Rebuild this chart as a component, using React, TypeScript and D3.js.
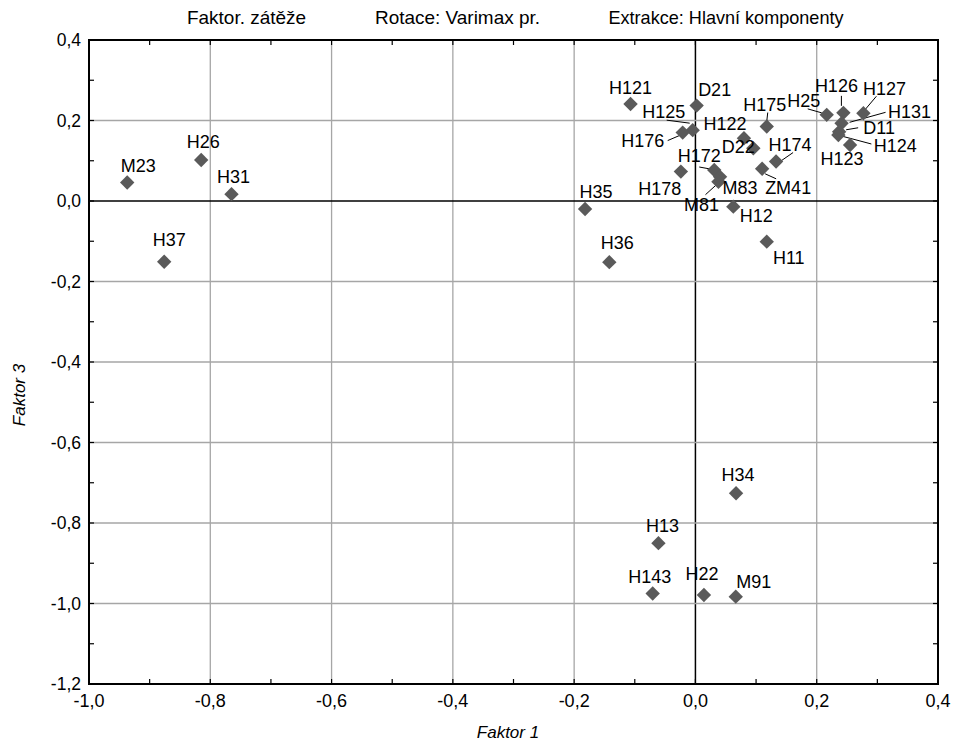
import React from "react";
import * as d3 from "d3";

const names = ["M23","H26","H31","H37","H35","H36","H121","D21","H125","H176","H122","D22","H175","H174","ZM41","H172","M83","M81","H178","H12","H11","H25","H126","H127","H131","D11","H124","H123","H34","H13","H143","H22","M91"];
const factor1 = [-0.937,-0.815,-0.765,-0.876,-0.182,-0.142,-0.107,0.002,-0.0045,-0.021,0.080,0.0955,0.1176,0.133,0.110,0.031,0.0406,0.038,-0.024,0.0625,0.1176,0.2165,0.244,0.277,0.241,0.237,0.2357,0.255,0.067,-0.061,-0.0705,0.014,0.0665];
const factor3 = [0.046,0.102,0.017,-0.151,-0.020,-0.152,0.241,0.237,0.176,0.170,0.156,0.131,0.185,0.098,0.080,0.077,0.060,0.048,0.073,-0.014,-0.101,0.214,0.219,0.218,0.193,0.172,0.164,0.139,-0.726,-0.850,-0.975,-0.979,-0.983];

const xTicks = [-1.0,-0.8,-0.6,-0.4,-0.2,0.0,0.2,0.4];
const yTicks = [0.4,0.2,0.0,-0.2,-0.4,-0.6,-0.8,-1.0,-1.2];
const headerTexts = ["Faktor. zátěže","Rotace: Varimax pr.","Extrakce: Hlavní komponenty"];
const xTitle = "Faktor 1";
const yTitle = "Faktor 3";

// label layout (px offsets of label centre from marker), plus optional leader line
const labelLayout: Record<string, { dx: number; dy: number; leader?: number[] }> = {
  M23: { dx: 11, dy: -17 }, H26: { dx: 2, dy: -18 }, H31: { dx: 2, dy: -17 }, H37: { dx: 5, dy: -22 },
  H35: { dx: 11, dy: -17 }, H36: { dx: 8, dy: -19 }, H121: { dx: 0, dy: -16 }, D21: { dx: 18, dy: -16 },
  H125: { dx: -29, dy: -18, leader: [-26, -10, -3, -7] },
  H176: { dx: -40, dy: 8, leader: [-15, 8, -1, 2] },
  H122: { dx: -19, dy: -15 }, D22: { dx: -15, dy: -2 },
  H175: { dx: -2, dy: -22, leader: [1, -14, 0, -5] },
  H174: { dx: 14, dy: -17, leader: [17, -9, 4, 0] },
  ZM41: { dx: 26, dy: 19, leader: [14, 10, 3, 5] },
  H172: { dx: -15, dy: -14, leader: [-15, -3, -4, -1] },
  M83: { dx: 20, dy: 11 },
  M81: { dx: -17, dy: 23, leader: [-13, 13, -2, 3] },
  H178: { dx: -21, dy: 17 }, H12: { dx: 23, dy: 9 }, H11: { dx: 22, dy: 16 },
  H25: { dx: -23, dy: -14, leader: [-19, -6, -5, -2] },
  H126: { dx: -7, dy: -27, leader: [-2, -17, -2, -7] },
  H127: { dx: 21, dy: -25, leader: [13, -17, 2, -4] },
  H131: { dx: 68, dy: -12, leader: [44, -11, 8, -1] },
  D11: { dx: 40, dy: -4, leader: [19, -4, 7, -2] },
  H124: { dx: 57, dy: 11, leader: [33, 9, 3, 1] },
  H123: { dx: -8, dy: 14 },
  H34: { dx: 2, dy: -19 }, H13: { dx: 4, dy: -17 }, H143: { dx: -3, dy: -17 }, H22: { dx: -2, dy: -21 }, M91: { dx: 18, dy: -15 },
};

const W = 956, H = 748;
const L = 89, R = 938, T = 40, B = 684;
const FONT = "'Liberation Sans', Arial, Helvetica, sans-serif";

export default function App() {
  const x = d3.scaleLinear().domain([-1.0, 0.4]).range([L, R]);
  const y = d3.scaleLinear().domain([-1.2, 0.4]).range([B, T]);
  const fmt = (v: number) => d3.format(".1f")(v).replace(".", ",").replace("−", "-");
  const minorX = d3.range(-10, 5).map((i) => i / 10);
  const minorY = d3.range(-12, 5).map((i) => i / 10);
  const grid = "#a6a6a6";
  const tk = 5;
  const headerX = [246.5, 457.5, 726];
  const headerW = [119, 165, 235];
  const diamond = d3.symbol().type(d3.symbolDiamond2).size(132);

  return (
    <svg width={W} height={H} style={{ position: "absolute", left: 0, top: 0, background: "#fff" }} fontFamily={FONT}>
      <rect x={0} y={0} width={W} height={H} fill="#fff" />
      {xTicks.map((v) => (
        <line key={"gx" + v} x1={x(v)} x2={x(v)} y1={T} y2={B} stroke={Math.abs(v) < 1e-9 ? "#000" : grid} strokeWidth={Math.abs(v) < 1e-9 ? 1.5 : 1.3} />
      ))}
      {yTicks.map((v) => (
        <line key={"gy" + v} y1={y(v)} y2={y(v)} x1={L} x2={R} stroke={Math.abs(v) < 1e-9 ? "#000" : grid} strokeWidth={Math.abs(v) < 1e-9 ? 1.5 : 1.3} />
      ))}
      {minorX.map((v) => (
        <g key={"mx" + v}>
          <line x1={x(v)} x2={x(v)} y1={T} y2={T + tk} stroke="#000" strokeWidth={1.2} />
          <line x1={x(v)} x2={x(v)} y1={B} y2={B - tk} stroke="#000" strokeWidth={1.2} />
        </g>
      ))}
      {minorY.map((v) => (
        <g key={"my" + v}>
          <line y1={y(v)} y2={y(v)} x1={L} x2={L + tk} stroke="#000" strokeWidth={1.2} />
          <line y1={y(v)} y2={y(v)} x1={R} x2={R - tk} stroke="#000" strokeWidth={1.2} />
        </g>
      ))}
      <rect x={L} y={T} width={R - L} height={B - T} fill="none" stroke="#000" strokeWidth={2} />
      {xTicks.map((v) => (
        <text key={"tx" + v} x={x(v)} y={707} textAnchor="middle" fontSize={18} fill="#000">{fmt(v)}</text>
      ))}
      {yTicks.map((v) => (
        <text key={"ty" + v} x={81} y={y(v)} dy="0.35em" textAnchor="end" fontSize={17.5} fill="#000">{fmt(v)}</text>
      ))}
      {headerTexts.map((t, i) => (
        <text key={t} x={headerX[i] - headerW[i] / 2} y={24} textLength={headerW[i]} lengthAdjust="spacingAndGlyphs" fontSize={18.5} fill="#000">{t}</text>
      ))}
      <text x={508} y={738} textAnchor="middle" fontSize={17} fontStyle="italic" fill="#000">{xTitle}</text>
      <text transform={`translate(25,${395}) rotate(-90)`} textAnchor="middle" fontSize={17} fontStyle="italic" fill="#000">{yTitle}</text>
      {names.map((n, i) => {
        const lay = labelLayout[n];
        if (!lay || !lay.leader) return null;
        const px = x(factor1[i]), py = y(factor3[i]);
        const [a, b, c, d] = lay.leader;
        return <line key={"ld" + n} x1={px + a} y1={py + b} x2={px + c} y2={py + d} stroke="#000" strokeWidth={1} />;
      })}
      {names.map((n, i) => (
        <path key={"pt" + n} d={diamond() as string} transform={`translate(${x(factor1[i])},${y(factor3[i])})`} fill="#5a5a5a" />
      ))}
      {names.map((n, i) => {
        const lay = labelLayout[n] || { dx: 0, dy: -17 };
        return (
          <text key={"lb" + n} x={x(factor1[i]) + lay.dx} y={y(factor3[i]) + lay.dy} dy="0.35em" textAnchor="middle" fontSize={18} fill="#000">{n}</text>
        );
      })}
    </svg>
  );
}
